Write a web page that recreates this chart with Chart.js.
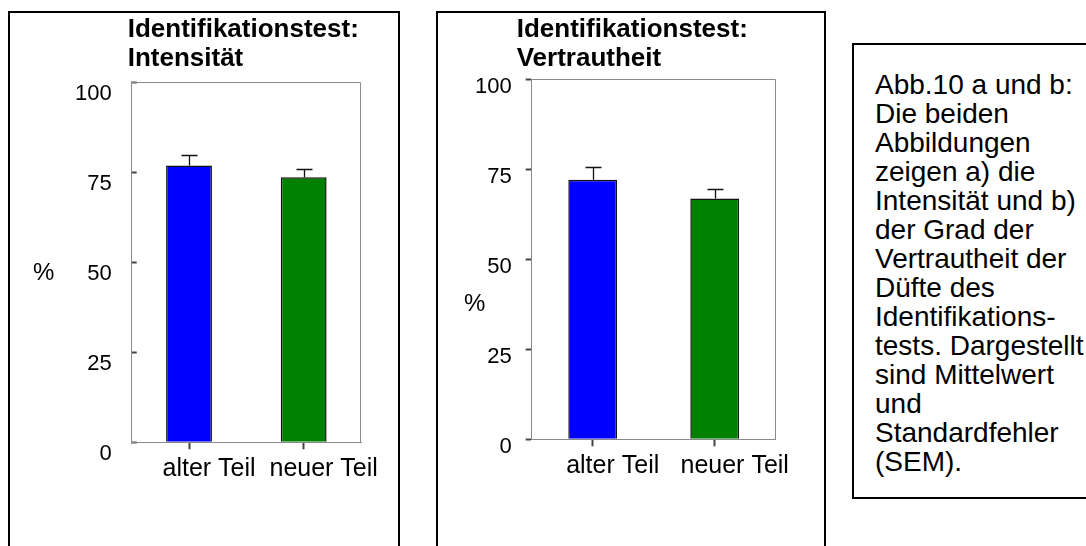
<!DOCTYPE html>
<html>
<head>
<meta charset="utf-8">
<script src="https://cdn.jsdelivr.net/npm/chart.js@4.4.1/dist/chart.umd.min.js"></script>
<style>
  html, body { margin: 0; padding: 0; background: #fff; overflow: hidden; }
  body { width: 1086px; height: 546px; position: relative; font-family: "Liberation Sans", Arial, sans-serif; }
  .panel { position: absolute; top: 11px; height: 560px; border: 2px solid #000; }
  #panelA { left: 8px; width: 388px; }
  #panelB { left: 436px; width: 386px; }
  .panel canvas { position: absolute; left: 0; top: 0; }
  #caption {
    position: absolute; left: 852px; top: 43px; width: 260px; height: 456px;
    box-sizing: border-box; border: 2px solid #000; padding: 25px 0 0 21px;
    font-size: 28px; line-height: 29px; color: #000; white-space: nowrap;
  }
</style>
</head>
<body>
<div class="panel" id="panelA"><canvas id="intensity" width="388" height="500"></canvas></div>
<div class="panel" id="panelB"><canvas id="familiarity" width="386" height="500"></canvas></div>
<div id="caption">
  Abb.10 a und b:<br>
  Die beiden<br>
  Abbildungen<br>
  zeigen a) die<br>
  Intensität und b)<br>
  der Grad der<br>
  Vertrautheit der<br>
  Düfte des<br>
  Identifikations-<br>
  tests. Dargestellt<br>
  sind Mittelwert<br>
  und<br>
  Standardfehler<br>
  (SEM).
</div>
<script>
const categories = ['alter Teil', 'neuer Teil'];
const intensityMean = [76.8, 73.6];
const intensitySem = [3.0, 2.4];
const familiarityMean = [72.1, 66.9];
const familiaritySem = [3.5, 2.7];
const yTicks = [0, 25, 50, 75, 100];

const FONT = '"Liberation Sans", Arial, sans-serif';

// SEM whisker drawn upward from each bar top
const errorBars = {
  id: 'errorBars',
  afterDatasetsDraw(chart, args, opts) {
    const ctx = chart.ctx;
    const y = chart.scales.y;
    const ds = chart.data.datasets[0];
    ctx.save();
    ctx.strokeStyle = opts.color;
    ctx.lineWidth = opts.width;
    chart.getDatasetMeta(0).data.forEach((bar, i) => {
      const x = Math.round(bar.x) + 0.5;
      const top = Math.round(y.getPixelForValue(ds.data[i] + ds.sem[i])) + 0.5;
      ctx.beginPath();
      ctx.moveTo(x, bar.y);
      ctx.lineTo(x, top);
      ctx.moveTo(x - opts.cap, top);
      ctx.lineTo(x + opts.cap, top);
      ctx.stroke();
    });
    ctx.restore();
  }
};

// closes the plot box (top + right edge), puts the unit beside the y axis
// and lets the title start a little left of the plot
const plotFrame = {
  id: 'plotFrame',
  afterLayout(chart, args, opts) {
    const t = chart.titleBlock;
    const w = t.right - t.left;
    t.left = chart.chartArea.left + opts.titleDx;
    t.right = t.left + w;
  },
  afterDraw(chart, args, opts) {
    const { ctx, chartArea: a } = chart;
    ctx.save();
    ctx.strokeStyle = opts.color;
    ctx.lineWidth = 1;
    ctx.beginPath();
    ctx.moveTo(a.left, Math.round(a.top) + 0.5);
    ctx.lineTo(Math.round(a.right) - 0.5, Math.round(a.top) + 0.5);
    ctx.lineTo(Math.round(a.right) - 0.5, a.bottom);
    ctx.stroke();
    ctx.fillStyle = '#000';
    ctx.font = opts.unitFont;
    ctx.textAlign = 'center';
    ctx.textBaseline = 'middle';
    ctx.fillText(opts.unit, a.left + opts.unitDx, chart.scales.y.getPixelForValue(opts.unitAt));
    ctx.restore();
  }
};

function makeChart(id, titleLines, means, sems, cfg) {
  return new Chart(document.getElementById(id), {
    type: 'bar',
    data: {
      labels: categories,
      datasets: [{
        data: means,
        sem: sems,
        backgroundColor: ['#0000ff', '#008000'],
        borderColor: '#111',
        borderWidth: 1.5,
        barPercentage: 0.4,
        categoryPercentage: 1
      }]
    },
    options: {
      responsive: false,
      animation: false,
      devicePixelRatio: 1,
      layout: { padding: cfg.padding },
      plugins: {
        legend: { display: false },
        tooltip: { enabled: false },
        title: {
          display: true,
          text: titleLines,
          align: 'start',
          color: '#000',
          font: { family: FONT, size: 26, weight: 'bold', lineHeight: 1.12 },
          padding: cfg.titlePadding
        },
        errorBars: { color: '#111', width: 1.3, cap: 8 },
        plotFrame: {
          color: '#8a8a8a', unit: '%', unitAt: cfg.unitAt, unitDx: cfg.unitDx,
          unitFont: '24px ' + FONT, titleDx: cfg.titleDx
        }
      },
      scales: {
        x: {
          offset: true,
          grid: { drawOnChartArea: false, offset: false, tickLength: 7, tickWidth: 2, tickColor: '#444' },
          border: { color: '#8a8a8a', width: 1 },
          ticks: { color: '#000', font: { family: FONT, size: 25 }, padding: 5, labelOffset: 20, maxRotation: 0 },
          afterFit: s => { s.height = 50; }
        },
        y: {
          min: 0,
          max: 100,
          afterBuildTicks: s => { s.ticks = yTicks.map(v => ({ value: v })); },
          grid: { drawOnChartArea: false, tickLength: cfg.tickLength, tickWidth: 2, tickColor: '#444' },
          border: { color: '#8a8a8a', width: 1 },
          ticks: { color: '#000', font: { family: FONT, size: 22 }, padding: cfg.tickPadding, labelOffset: cfg.labelOffset },
          afterFit: s => { s.width = 60; }
        }
      }
    },
    plugins: [errorBars, plotFrame]
  });
}

makeChart('intensity', ['Identifikationstest:', 'Intensität'], intensityMean, intensitySem, {
  padding: { left: 61.7, right: 37, top: 0, bottom: 20.7 },
  titlePadding: { top: 2, bottom: 8.8 },
  titleDx: -4,
  tickLength: -5,
  tickPadding: 25,
  labelOffset: 12,
  unitAt: 47,
  unitDx: -88
});

makeChart('familiarity', ['Identifikationstest:', 'Vertrautheit'], familiarityMean, familiaritySem, {
  padding: { left: 33.7, right: 48.3, top: 0, bottom: 23.7 },
  titlePadding: { top: 2, bottom: 6.1 },
  titleDx: -15,
  tickLength: 6,
  tickPadding: 14,
  labelOffset: 8,
  unitAt: 37.6,
  unitDx: -57
});
</script>
</body>
</html>
